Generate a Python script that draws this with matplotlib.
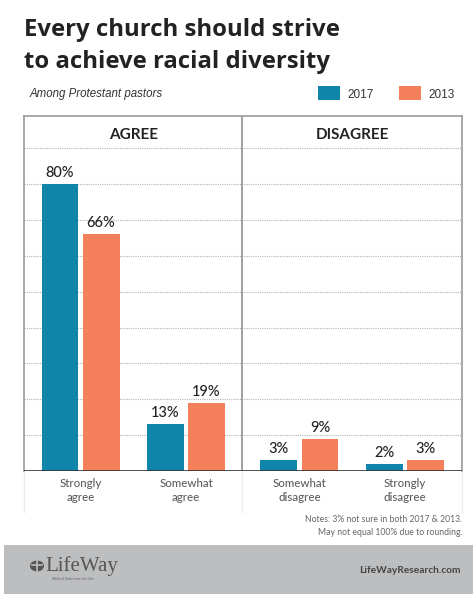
import matplotlib.pyplot as plt
from matplotlib.patches import Rectangle, Ellipse
import numpy as np

# data
categories = ["Strongly\nagree", "Somewhat\nagree", "Somewhat\ndisagree", "Strongly\ndisagree"]
vals_2017 = [80, 13, 3, 2]
vals_2013 = [66, 19, 9, 3]
years = ["2017", "2013"]

TEAL = "#0f86a9"
ORANGE = "#f4805b"
W, H = 473, 594


def px(x, y):
    # pixel position (from top-left) -> figure fraction
    return x / W, 1 - y / H


fig = plt.figure(figsize=(W / 100, H / 100), dpi=100)
fig.patch.set_facecolor("white")

# title + subtitle
fig.text(*px(24, 36), "Every church should strive", fontsize=17.2, fontweight="bold",
         family="Open Sans", color="#222222", va="baseline")
fig.text(*px(24, 68), "to achieve racial diversity", fontsize=17.2, fontweight="bold",
         family="Open Sans", color="#222222", va="baseline")
fig.text(*px(30, 97), "Among Protestant pastors", fontsize=8.3, style="italic",
         family="Liberation Sans", color="#333333", va="baseline")

# legend
for (x0, col, lab) in [(318, TEAL, years[0]), (399, ORANGE, years[1])]:
    fig.patches.append(Rectangle(px(x0, 100), 22 / W, 14 / H, transform=fig.transFigure,
                                 color=col, lw=0))
    fig.text(*px(x0 + 29, 98), lab, fontsize=8.5, family="Liberation Sans",
             color="#333333", va="baseline")

# main axes
ax = fig.add_axes([24 / W, 123 / H, 438 / W, 355 / H])
centers = np.array([0, 1, 2.075, 3.075])
bw = 0.35
off = 0.195
ax.set_xlim(-0.536, 3.616)
ax.set_ylim(0, 99)

for y in range(10, 100, 10):
    ax.axhline(y, color="#b5b5b5", lw=0.8, ls=(0, (1, 1)), zorder=0)

ax.bar(centers - off, vals_2017, bw, color=TEAL, zorder=2)
ax.bar(centers + off, vals_2013, bw, color=ORANGE, zorder=2)

for c, a, b in zip(centers, vals_2017, vals_2013):
    ax.text(c - off, a + 2, f"{a}%", ha="center", va="baseline", fontsize=10.5,
            family="Lato", fontweight="medium", color="#222222")
    ax.text(c + off, b + 2, f"{b}%", ha="center", va="baseline", fontsize=10.5,
            family="Lato", fontweight="medium", color="#222222")

ax.text(0.5, 93.6, "AGREE", ha="center", va="center", fontsize=11, fontweight="bold",
        family="Lato", color="#222222")
ax.text(2.575, 93.6, "DISAGREE", ha="center", va="center", fontsize=11, fontweight="bold",
        family="Lato", color="#222222")

ax.axvline(1.53, color="#999999", lw=1.3, zorder=3)
ax.axhline(0, color="#333333", lw=1.2, zorder=4)

for s in ["left", "right", "top"]:
    ax.spines[s].set_color("#999999")
    ax.spines[s].set_linewidth(1.2)
ax.spines["bottom"].set_visible(False)

ax.set_yticks([])
ax.set_xticks(centers)
ax.set_xticklabels(categories, fontsize=8.3, family="Lato", fontweight="medium",
                   color="#5e5e5e", linespacing=1.3)
ax.tick_params(axis="x", length=0, pad=5)

# faint extension of box lines below the baseline
for x0 in [24, 242, 462]:
    fig.lines.append(plt.Line2D([x0 / W, x0 / W], [1 - 472 / H, 1 - 512 / H],
                                transform=fig.transFigure, color="#ececec", lw=1))

# notes
fig.text(*px(462, 522), "Notes: 3% not sure in both 2017 & 2013.", ha="right",
         va="baseline", fontsize=6.2, family="Lato", color="#666666")
fig.text(*px(462, 535), "May not equal 100% due to rounding.", ha="right",
         va="baseline", fontsize=6.2, family="Lato", color="#666666")

# footer band
fig.patches.append(Rectangle(px(4, 594), (W - 4) / W, 49 / H, transform=fig.transFigure,
                             color="#bdbec0", lw=0))
fig.patches.append(Ellipse(px(37, 566), 14 / W, 11 / H, transform=fig.transFigure,
                           color="#555555", lw=0))
fig.lines.append(plt.Line2D([37 / W, 37 / W], [1 - 560 / H, 1 - 572 / H],
                            transform=fig.transFigure, color="#bdbec0", lw=1.2))
fig.lines.append(plt.Line2D([32 / W, 42 / W], [1 - 565 / H, 1 - 565 / H],
                            transform=fig.transFigure, color="#bdbec0", lw=1.2))
fig.text(*px(45, 571), "LifeWay", fontsize=15, family="Liberation Serif",
         color="#555555", va="baseline")
fig.text(*px(52, 580), "Biblical Solutions for Life", fontsize=2.8, family="Lato",
         color="#666666", va="baseline")
fig.text(*px(461, 573), "LifeWayResearch.com", ha="right", va="baseline", fontsize=7.3,
         fontweight="bold", family="Lato", color="#444444")

fig.savefig("out.png", dpi=100)
